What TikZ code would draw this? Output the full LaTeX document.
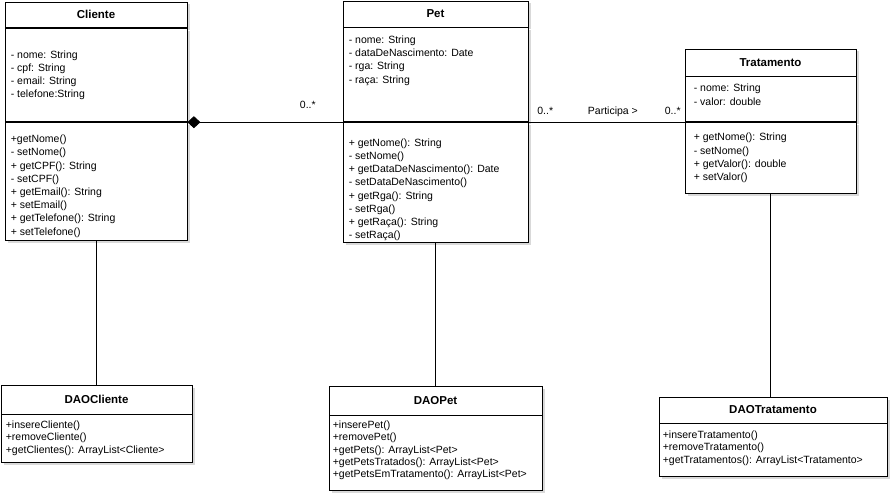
\documentclass[tikz,border=0pt]{standalone}
\usepackage{fontspec}
\setmainfont{Liberation Sans}
\usetikzlibrary{positioning,arrows.meta,shadows}

\tikzset{
  boxshadow/.style={drop shadow={shadow xshift=2.5pt, shadow yshift=-2.5pt, opacity=0.25, fill=black!60}},
}

\begin{document}
\begin{tikzpicture}[x=1pt,y=1pt,
    titlebox/.style={draw, fill=white, line width=0.8pt, inner sep=0pt, boxshadow, font=\fontsize{11.5}{13}\selectfont\bfseries},
    compbox/.style={draw, fill=white, line width=0.8pt, inner sep=0pt, boxshadow},
    members/.style={align=left, inner sep=0pt, font=\fontsize{10.5}{13.2}\selectfont},
    daomembers/.style={align=left, inner sep=0pt, font=\fontsize{10.5}{12.3}\selectfont},
    mult/.style={inner sep=0pt, anchor=base, font=\fontsize{10.5}{12}\selectfont},
    link/.style={line width=0.8pt},]
    \useasboundingbox (0,0) rectangle (891,-495);

    %Classes
    \node[titlebox, minimum width=182pt, minimum height=25.5pt](cliente) at (96,-14.75){Cliente};
    \node[compbox, minimum width=182pt, minimum height=93.5pt](clienteattr)[below=0pt of cliente]{};
    \node[compbox, minimum width=182pt, minimum height=118pt](clientemet)[below=0pt of clienteattr]{};

    \node[titlebox, minimum width=185pt, minimum height=26pt](pet) at (435.5,-14){Pet};
    \node[compbox, minimum width=185pt, minimum height=94pt](petattr)[below=0pt of pet]{};
    \node[compbox, minimum width=185pt, minimum height=120pt](petmet)[below=0pt of petattr]{};

    \node[titlebox, minimum width=171pt, minimum height=27pt](tratamento) at (770.5,-62.5){Tratamento};
    \node[compbox, minimum width=171pt, minimum height=45pt](tratamentoattr)[below=0pt of tratamento]{};
    \node[compbox, minimum width=171pt, minimum height=71pt](tratamentomet)[below=0pt of tratamentoattr]{};

    \node[titlebox, minimum width=191pt, minimum height=29pt](daocliente) at (96.5,-399.5){DAOCliente};
    \node[compbox, minimum width=191pt, minimum height=48pt](daoclientemet)[below=0pt of daocliente]{};

    \node[titlebox, minimum width=213pt, minimum height=29pt](daopet) at (435.5,-400.5){DAOPet};
    \node[compbox, minimum width=213pt, minimum height=75pt](daopetmet)[below=0pt of daopet]{};

    \node[titlebox, minimum width=228pt, minimum height=26pt](daotratamento) at (773,-410){DAOTratamento};
    \node[compbox, minimum width=228pt, minimum height=53pt](daotratamentomet)[below=0pt of daotratamento]{};

    %Members
    \node[members](clienteattrtxt)[below right=22.4pt and 6pt of clienteattr.north west]{- nome: String\\- cpf: String\\- email: String\\- telefone:String};
    \node[members](clientemettxt)[below right=12.6pt and 6pt of clientemet.north west]{+getNome()\\- setNome()\\+ getCPF(): String\\- setCPF()\\+ getEmail(): String\\+ setEmail()\\+ getTelefone(): String\\+ setTelefone()};
    \node[members](petattrtxt)[below right=8.2pt and 6pt of petattr.north west]{- nome: String\\- dataDeNascimento: Date\\- rga: String\\- raça: String};
    \node[members](petmettxt)[below right=16.2pt and 6pt of petmet.north west]{+ getNome(): String\\- setNome()\\+ getDataDeNascimento(): Date\\- setDataDeNascimento()\\+ getRga(): String\\- setRga()\\+ getRaça(): String\\- setRaça()};
    \node[members](tratamentoattrtxt)[below right=7.6pt and 9pt of tratamentoattr.north west]{- nome: String\\- valor: double};
    \node[members](tratamentomettxt)[below right=10.9pt and 9pt of tratamentomet.north west]{+ getNome(): String\\- setNome()\\+ getValor(): double\\+ setValor()};
    \node[daomembers](daoclientetxt)[below right=6.2pt and 5pt of daoclientemet.north west]{+insereCliente()\\+removeCliente()\\+getClientes(): ArrayList<Cliente>};
    \node[daomembers](daopettxt)[below right=5.2pt and 4pt of daopetmet.north west]{+inserePet()\\+removePet()\\+getPets(): ArrayList<Pet>\\+getPetsTratados(): ArrayList<Pet>\\+getPetsEmTratamento(): ArrayList<Pet>};
    \node[daomembers](daotratamentotxt)[below right=7.2pt and 4pt of daotratamentomet.north west]{+insereTratamento()\\+removeTratamento()\\+getTratamentos(): ArrayList<Tratamento>};

    %Lines
    \draw[link, {Diamond[length=13pt, width=12pt]}-](clientemet.north east)--node[mult, pos=0.776, yshift=13.5pt]{0..*}(petmet.north west);
    \draw[link](petmet.north east)--node[mult, pos=0.108, yshift=7.5pt]{0..*}
        node[mult, pos=0.541, yshift=7.5pt]{Participa >}
        node[mult, pos=0.924, yshift=7.5pt]{0..*}(tratamentomet.north west);
    \draw[link](clientemet.south)--(clientemet.south |- daocliente.north);
    \draw[link](petmet.south)--(petmet.south |- daopet.north);
    \draw[link](tratamentomet.south)--(tratamentomet.south |- daotratamento.north);
\end{tikzpicture}
\end{document}
